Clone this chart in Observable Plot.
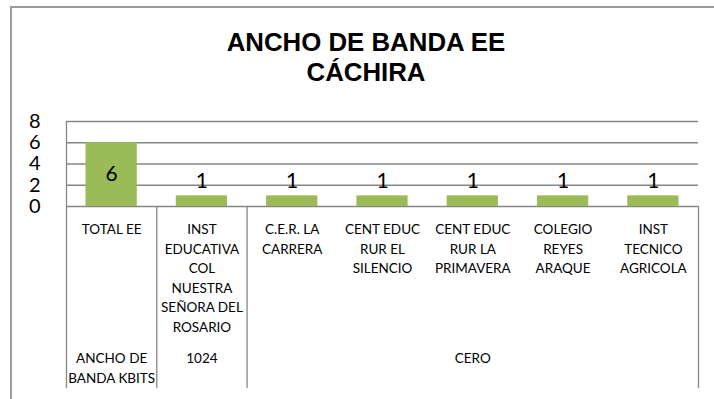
<!DOCTYPE html>
<html>
<head>
<meta charset="utf-8">
<script src="https://cdn.jsdelivr.net/npm/d3@7"></script>
<script src="https://cdn.jsdelivr.net/npm/@observablehq/plot@0.6"></script>
<style>
  html, body { margin: 0; padding: 0; background: #fff; overflow: hidden; }
  #wrap { position: relative; width: 714px; height: 399px; overflow: hidden; }
  #border { position: absolute; left: 10px; top: 6px; width: 720px; height: 400px;
            border-left: 2px solid #9a9a9a; border-top: 2px solid #9a9a9a; box-sizing: border-box; }
  #title { position: absolute; left: 0; top: 27px; width: 732px; text-align: center;
           font-family: "Liberation Sans", Arial, sans-serif; font-weight: bold; font-size: 25.8px;
           line-height: 30px; color: #000; }
  #chart { position: absolute; left: 0; top: 0; }
</style>
</head>
<body>
<div id="wrap">
  <div id="border"></div>
  <div id="chart"></div>
  <div id="title">ANCHO DE BANDA EE<br>CÁCHIRA</div>
</div>
<script>
// ---- data ----
const categories = [
  "TOTAL EE",
  "INST\nEDUCATIVA\nCOL\nNUESTRA\nSEÑORA DEL\nROSARIO",
  "C.E.R. LA\nCARRERA",
  "CENT EDUC\nRUR EL\nSILENCIO",
  "CENT EDUC\nRUR LA\nPRIMAVERA",
  "COLEGIO\nREYES\nARAQUE",
  "INST\nTECNICO\nAGRICOLA"
];
const values = [6, 1, 1, 1, 1, 1, 1];
const groupLabels = ["ANCHO DE\nBANDA KBITS", "1024", "CERO"];
const groupStarts = [0, 1, 2];
const groupEnds = [1, 2, 7];
const yTicks = [0, 2, 4, 6, 8];

// ---- derived tables ----
const data = categories.map((c, i) => ({i, c, v: values[i]}));
const groups = groupLabels.map((g, k) => ({g, s: groupStarts[k], e: groupEnds[k]}));
const bounds = [0, ...groupEnds];
const n = categories.length;

const gray = "#868686";
const font = "Lato, 'Open Sans', sans-serif";

const chart = Plot.plot({
  width: 714,
  height: 399,
  marginLeft: 66,
  marginRight: 16,
  marginTop: 121,
  marginBottom: 193,
  style: {fontFamily: font, background: "transparent", color: "#000"},
  x: {domain: [0, n], axis: null, label: null},
  y: {domain: [0, 8], axis: null, label: null},
  marks: [
    Plot.ruleY(yTicks, {y: d => d, x1: 0, x2: n, stroke: gray, strokeWidth: 1.3}),
    Plot.ruleX([0], {x: d => d, y1: 8, y2: 0, insetBottom: -182, stroke: gray, strokeWidth: 1.3}),
    Plot.ruleX(bounds.slice(1), {x: d => d, y1: 0, y2: 0, insetBottom: -182, stroke: gray, strokeWidth: 1.3}),
    Plot.rectY(data, {x1: d => d.i, x2: d => d.i + 1, y: "v", fill: "#9BBB59", insetLeft: 19.5, insetRight: 19.5}),
    Plot.axisY({ticks: yTicks, tickSize: 0, tickPadding: 26, fontSize: 20, fill: "#000", fontFamily: font, label: null}),
    Plot.text(data.filter(d => d.v >= 3), {x: d => d.i + 0.5, y: d => d.v / 2, text: d => String(d.v), fontSize: 21, fill: "#000"}),
    Plot.text(data.filter(d => d.v < 3), {x: d => d.i + 0.5, y: "v", text: d => String(d.v), dy: -15, fontSize: 21, fill: "#000"}),
    Plot.text(data, {x: d => d.i + 0.5, y: 0, text: "c", lineAnchor: "top", dy: 14, fontSize: 13.5, lineHeight: 1.44, fill: "#000"}),
    Plot.text(groups, {x: d => (d.s + d.e) / 2, y: 0, text: "g", lineAnchor: "top", dy: 143, fontSize: 13.5, lineHeight: 1.44, fill: "#000"})
  ]
});
document.getElementById("chart").appendChild(chart);
</script>
</body>
</html>
